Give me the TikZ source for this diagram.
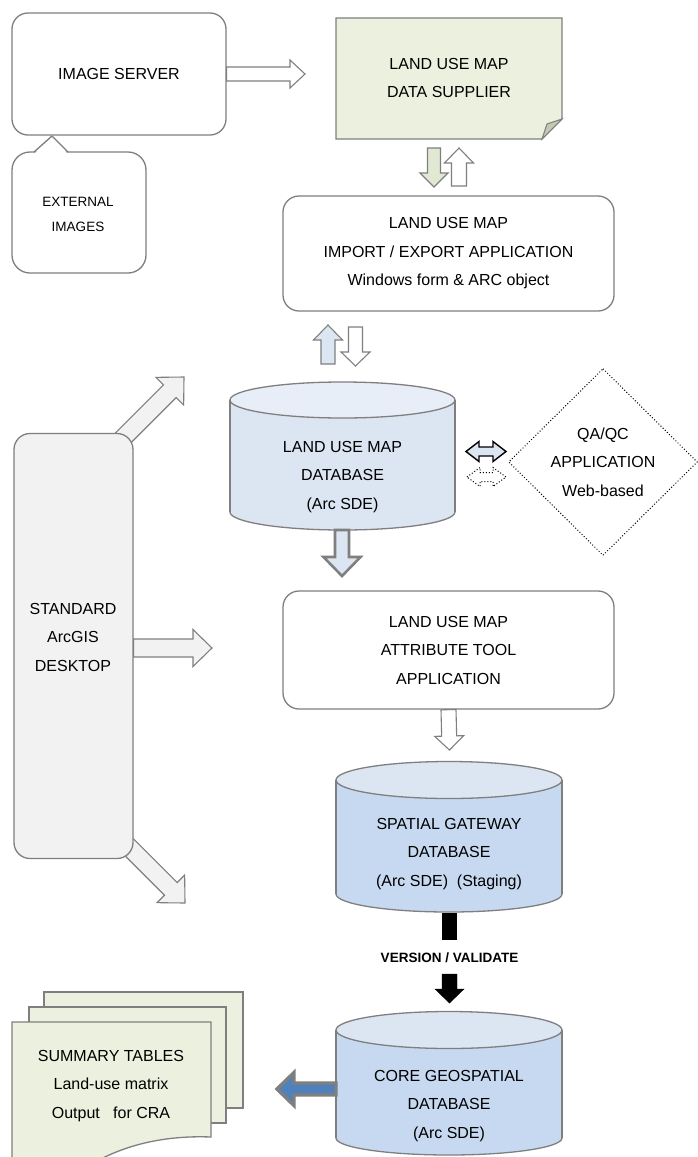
\documentclass[tikz,border=0pt]{standalone}
\usepackage{fontspec}
\setmainfont{Liberation Sans}
\usetikzlibrary{calc}
\definecolor{gline}{HTML}{7F7F7F}
\definecolor{supfill}{HTML}{EBF1DE}
\definecolor{foldfill}{HTML}{C4C9B5}
\definecolor{grarrow}{HTML}{E2E9D2}
\definecolor{dbA}{HTML}{DCE6F2}
\definecolor{dbAtop}{HTML}{E8EEF7}
\definecolor{dbB}{HTML}{C6D9F1}
\definecolor{dbBtop}{HTML}{DCE6F2}
\definecolor{stdfill}{HTML}{F2F2F2}
\definecolor{bluearr}{HTML}{4F81BD}
% block arrow: style, from, to, shaft half width, head half width, head length
\newcommand\barrow[6]{%
  \coordinate (bah) at ($(#3)!#6!(#2)$);
  \draw[#1] ($(#2)!#4!90:(#3)$) -- ($(bah)!#4!90:(#3)$) -- ($(bah)!#5!90:(#3)$) -- (#3)
    -- ($(bah)!#5!-90:(#3)$) -- ($(bah)!#4!-90:(#3)$) -- ($(#2)!#4!-90:(#3)$) -- cycle;}
% double block arrow
\newcommand\dbarrow[6]{%
  \coordinate (bha) at ($(#2)!#6!(#3)$);
  \coordinate (bhb) at ($(#3)!#6!(#2)$);
  \draw[#1] (#2) -- ($(bha)!#5!90:(#3)$) -- ($(bha)!#4!90:(#3)$) -- ($(bhb)!#4!90:(#3)$)
    -- ($(bhb)!#5!90:(#3)$) -- (#3) -- ($(bhb)!#5!-90:(#3)$) -- ($(bhb)!#4!-90:(#3)$)
    -- ($(bha)!#4!-90:(#3)$) -- ($(bha)!#5!-90:(#3)$) -- cycle;}
\begin{document}
\begin{tikzpicture}[x=1pt,y=-1pt,
  every node/.style={font=\fontsize{16}{28.5}\selectfont, align=center, inner sep=0pt},
  gl/.style={draw=gline, line width=1.3pt},
  rbox/.style={gl, rounded corners=16pt, fill=white},
  harrow/.style={gl, line width=1.1pt, fill=white},
  cyl/.style={gl},
  smallfont/.style={font=\fontsize{13.5}{25}\selectfont},
  labfont/.style={font=\bfseries\fontsize{13.5}{16}\selectfont}]
\useasboundingbox (0,0) rectangle (697,1157);
\fill[white] (0,0) rectangle (697,1157);

% ---------- image server
\node[rbox, minimum width=214pt, minimum height=122pt] (imgsrv) at (119,74) {IMAGE SERVER};
\coordinate (isend) at (305,74);
\barrow{harrow}{imgsrv.east}{isend}{7pt}{14pt}{15pt}

% ---------- external images callout
\node[rbox, rounded corners=18pt, minimum width=134pt, minimum height=121pt] (extimg) at (79,212.5) {};
\node[smallfont] (exttxt) at (78,214) {EXTERNAL\\IMAGES};
\coordinate (ptip) at (52,136);
\fill[white] (35,153.2) -- (ptip) -- (67,153.2) -- cycle;
\draw[gl, line join=round] (34,152) -- (ptip) -- (68,152);

% ---------- data supplier
\draw[gl, fill=supfill] (336,18) -- (562,18) -- (562,119) -- (542,139) -- (336,139) -- cycle;
\draw[gl, line width=1pt, fill=foldfill] (542,139) -- (547,124) -- (562,119) -- cycle;
\node[minimum width=226pt, minimum height=121pt] (supp) at (449,78) {LAND USE MAP\\DATA SUPPLIER};

% ---------- import/export
\node[rbox, minimum width=331pt, minimum height=115pt] (impexp) at (448.5,253.5)
  {LAND USE MAP\\IMPORT / EXPORT~APPLICATION\\Windows form \& ARC object};
\coordinate (s1a) at (434,148); \coordinate (s1b) at (434,187);
\coordinate (s2a) at (459,186); \coordinate (s2b) at (459,148);
\barrow{harrow, fill=grarrow}{s1a}{s1b}{6.5pt}{14pt}{14pt}
\barrow{harrow}{s2a}{s2b}{7.5pt}{14.5pt}{15pt}

% ---------- land use map database cylinder
\draw[cyl, fill=dbA] (342.5,512) ellipse [x radius=112.5pt, y radius=18pt];
\fill[dbA] (230,400) rectangle (455,512);
\draw[cyl] (230,400) -- (230,512) (455,400) -- (455,512);
\draw[cyl, fill=dbAtop] (342.5,400) ellipse [x radius=112.5pt, y radius=18pt];
\node (lumdb) at (342.5,477) {LAND USE MAP\\DATABASE\\(Arc SDE)};

\coordinate (u1a) at (328,364); \coordinate (u1b) at (328,325);
\coordinate (u2a) at (355.5,327); \coordinate (u2b) at (355.5,366);
\barrow{harrow, fill=dbA}{u1a}{u1b}{7pt}{14.5pt}{15pt}
\barrow{harrow}{u2a}{u2b}{7pt}{14.5pt}{14pt}

% ---------- QA/QC
\node[minimum width=188pt, minimum height=186pt] (qa) at (603,462) {QA/QC\\APPLICATION\\Web-based};
\draw[black, dotted, line width=1pt] (qa.north) -- (qa.east) -- (qa.south) -- (qa.west) -- cycle;
\coordinate (q1a) at (466,451.5); \coordinate (q1b) at (506,451.5);
\coordinate (q2a) at (467,477); \coordinate (q2b) at (506,477);
\dbarrow{draw=black, line width=1.4pt, fill=dbA}{q1a}{q1b}{4.5pt}{10pt}{13pt}
\dbarrow{draw=black, dotted, line width=1pt, fill=white}{q2a}{q2b}{4.5pt}{9.5pt}{13pt}

% ---------- database to attribute tool
\coordinate (g1a) at (342,530); \coordinate (g1b) at (342,576);
\barrow{gl, line width=2.6pt, fill=dbA}{g1a}{g1b}{7pt}{18.5pt}{19pt}

% ---------- standard ArcGIS desktop and its arrows
\coordinate (d1s) at (122,439); \coordinate (d1e) at (184,377);
\coordinate (d2s) at (123,841); \coordinate (d2e) at (185,903);
\barrow{harrow, fill=stdfill}{d1s}{d1e}{9pt}{19.5pt}{20pt}
\barrow{harrow, fill=stdfill}{d2s}{d2e}{9pt}{19.5pt}{20pt}
\node[rbox, fill=stdfill, minimum width=119pt, minimum height=425pt] (std) at (73.5,646) {};
\node (stdtxt) at (73,637) {STANDARD\\ArcGIS\\DESKTOP};
\coordinate (stdend) at (212,648);
\barrow{harrow, fill=stdfill}{std.east |- stdend}{stdend}{9pt}{18.5pt}{19pt}

% ---------- attribute tool
\node[rbox, minimum width=331pt, minimum height=118pt] (attr) at (448.5,650)
  {LAND USE MAP\\ATTRIBUTE TOOL\\APPLICATION};
\coordinate (a1b) at (449.5,750);
\barrow{harrow}{attr.south}{a1b}{7.5pt}{14.5pt}{14pt}

% ---------- spatial gateway cylinder
\draw[cyl, fill=dbB] (449,894) ellipse [x radius=113pt, y radius=18pt];
\fill[dbB] (336,780) rectangle (562,894);
\draw[cyl] (336,780) -- (336,894) (562,780) -- (562,894);
\draw[cyl, fill=dbBtop] (449,780) ellipse [x radius=113pt, y radius=18.5pt];
\node (sgw) at (449,854) {SPATIAL GATEWAY\\DATABASE\\(Arc SDE)~~(Staging)};

% ---------- version / validate
\coordinate (v1a) at (449.5,913); \coordinate (v1b) at (449.5,940);
\fill[black] ($(v1a)+(-7.5,0)$) rectangle ($(v1b)+(7.5,0)$);
\node[labfont] (verlab) at (449.5,958) {VERSION / VALIDATE};
\coordinate (v2a) at (449.5,974); \coordinate (v2b) at (449.5,1003);
\barrow{draw=black, fill=black}{v2a}{v2b}{7.5pt}{14.5pt}{14pt}

% ---------- core geospatial cylinder
\begin{scope}
\clip (0,0) rectangle (697,1157);
\draw[cyl, fill=dbB] (449,1138) ellipse [x radius=113pt, y radius=17pt];
\fill[dbB] (336,1030) rectangle (562,1138);
\draw[cyl] (336,1030) -- (336,1138) (562,1030) -- (562,1138);
\draw[cyl, fill=dbBtop] (449,1030) ellipse [x radius=113pt, y radius=18.5pt];
\end{scope}
\node (core) at (449,1106) {CORE GEOSPATIAL\\DATABASE\\(Arc SDE)};

% ---------- summary tables
\draw[gl, fill=supfill] (44,992) rectangle (243,1108);
\draw[gl, fill=supfill] (29,1007) rectangle (226,1123);
\begin{scope}
\clip (0,0) rectangle (697,1157);
\draw[gl, fill=supfill] (12,1022) -- (211,1022) -- (211,1137)
  .. controls (160,1135) and (120,1147) .. (90,1165) -- (12,1170) -- cycle;
\end{scope}
\node (summ) at (111,1086) {SUMMARY TABLES\\Land-use matrix\\Output~~ for CRA};
\coordinate (c1a) at (336,1089); \coordinate (c1b) at (277,1089);
\barrow{gl, line width=3.4pt, fill=bluearr}{c1a}{c1b}{6pt}{16.5pt}{17pt}
\end{tikzpicture}
\end{document}
